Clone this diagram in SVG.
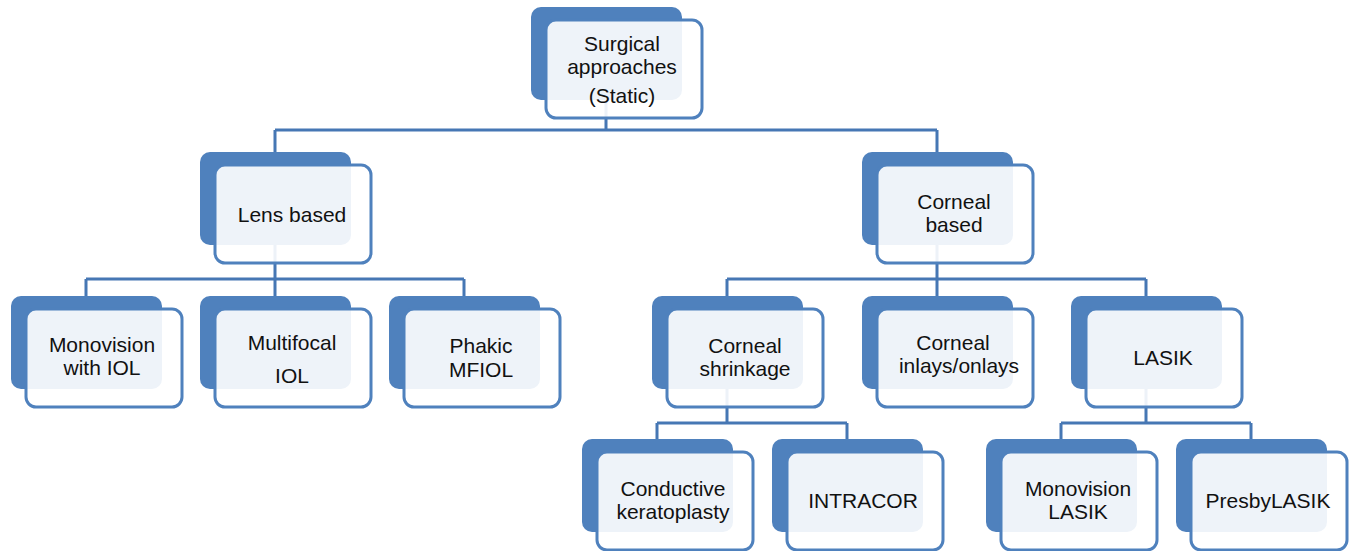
<svg xmlns="http://www.w3.org/2000/svg" width="1350" height="551" viewBox="0 0 1350 551">
<style>
.back{fill:#4f81bd;}
.front{fill:#ffffff;fill-opacity:0.9;stroke:#4f81bd;stroke-width:3;}
.t{font-family:"Liberation Sans",Arial,sans-serif;font-size:21px;fill:#111111;text-anchor:middle;}
.c{fill:none;stroke:#4677b4;stroke-width:3;}
</style>
<defs>
<g id="nodeShape">
<rect class="back" x="0" y="0" width="151" height="93" rx="10"/>
<rect class="front" x="15" y="13" width="156" height="98" rx="10"/>
</g>
</defs>
<rect width="1350" height="551" fill="#ffffff"/>
<g id="connectors">
<path class="c" d="M606,100 V130 M275,130 H937 M275,130 V152 M937,130 V152"/>
<path class="c" d="M275,245 V279 M86,279 H464 M86,279 V296 M275,279 V296 M464,279 V296"/>
<path class="c" d="M937,245 V279 M727,279 H1146 M727,279 V296 M937,279 V296 M1146,279 V296"/>
<path class="c" d="M727,389 V423 M657,423 H847 M657,423 V439 M847,423 V439"/>
<path class="c" d="M1146,389 V423 M1061,423 H1251 M1061,423 V439 M1251,423 V439"/>
</g>
<g id="n-root"><use href="#nodeShape" transform="translate(531,7)"/><text class="t" x="622" y="51">Surgical</text><text class="t" x="622" y="74">approaches</text><text class="t" x="622" y="103">(Static)</text></g>
<g id="n-lens"><use href="#nodeShape" transform="translate(200,152)"/><text class="t" x="292" y="222">Lens based</text></g>
<g id="n-corneal"><use href="#nodeShape" transform="translate(862,152)"/><text class="t" x="954" y="209">Corneal</text><text class="t" x="954" y="232">based</text></g>
<g id="n-monoiol"><use href="#nodeShape" transform="translate(11,296)"/><text class="t" x="102" y="352">Monovision</text><text class="t" x="102" y="375">with IOL</text></g>
<g id="n-multifocal"><use href="#nodeShape" transform="translate(200,296)"/><text class="t" x="292" y="350">Multifocal</text><text class="t" x="292" y="383">IOL</text></g>
<g id="n-phakic"><use href="#nodeShape" transform="translate(389,296)"/><text class="t" x="481" y="353">Phakic</text><text class="t" x="481" y="377">MFIOL</text></g>
<g id="n-shrinkage"><use href="#nodeShape" transform="translate(652,296)"/><text class="t" x="745" y="353">Corneal</text><text class="t" x="745" y="376">shrinkage</text></g>
<g id="n-inlays"><use href="#nodeShape" transform="translate(862,296)"/><text class="t" x="953" y="350">Corneal</text><text class="t" x="959" y="373">inlays/onlays</text></g>
<g id="n-lasik"><use href="#nodeShape" transform="translate(1071,296)"/><text class="t" x="1163" y="365">LASIK</text></g>
<g id="n-conductive"><use href="#nodeShape" transform="translate(582,439)"/><text class="t" x="673" y="496">Conductive</text><text class="t" x="673" y="519">keratoplasty</text></g>
<g id="n-intracor"><use href="#nodeShape" transform="translate(772,439)"/><text class="t" x="863" y="508">INTRACOR</text></g>
<g id="n-monolasik"><use href="#nodeShape" transform="translate(986,439)"/><text class="t" x="1078" y="496">Monovision</text><text class="t" x="1078" y="519">LASIK</text></g>
<g id="n-presby"><use href="#nodeShape" transform="translate(1176,439)"/><text class="t" x="1268" y="508">PresbyLASIK</text></g>
</svg>
